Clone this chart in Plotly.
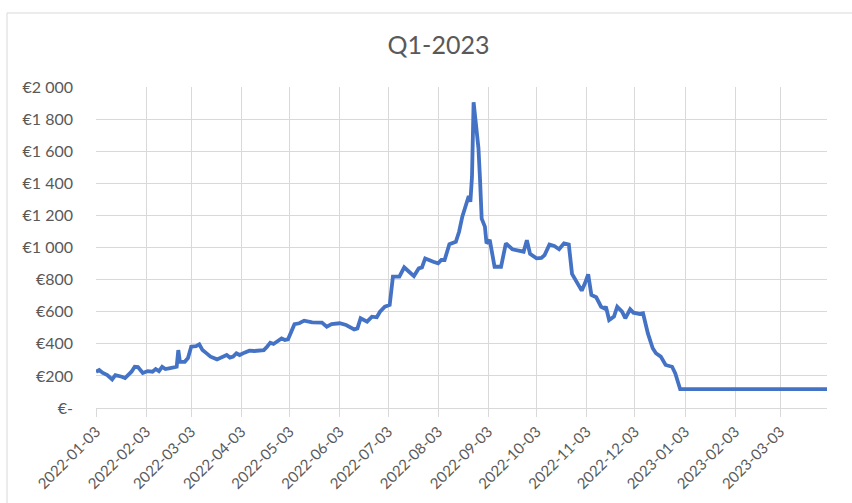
import plotly.graph_objects as go

# ---- data ----
dates = [
    "2022-01-03", "2022-01-05", "2022-01-07", "2022-01-10", "2022-01-13", "2022-01-15",
    "2022-01-19", "2022-01-21", "2022-01-25", "2022-01-27", "2022-01-29", "2022-02-01",
    "2022-02-04", "2022-02-07", "2022-02-09", "2022-02-11", "2022-02-13", "2022-02-15",
    "2022-02-18", "2022-02-21", "2022-02-22", "2022-02-23", "2022-02-24", "2022-02-27",
    "2022-03-01", "2022-03-03", "2022-03-06", "2022-03-08", "2022-03-10", "2022-03-12",
    "2022-03-15", "2022-03-19", "2022-03-23", "2022-03-25", "2022-03-27", "2022-03-29",
    "2022-03-31", "2022-04-02", "2022-04-05", "2022-04-08", "2022-04-11", "2022-04-14",
    "2022-04-17", "2022-04-19", "2022-04-21", "2022-04-23", "2022-04-25", "2022-04-28",
    "2022-04-30", "2022-05-02", "2022-05-04", "2022-05-06", "2022-05-09", "2022-05-12",
    "2022-05-17", "2022-05-23", "2022-05-26", "2022-05-29", "2022-06-03", "2022-06-07",
    "2022-06-12", "2022-06-14", "2022-06-16", "2022-06-20", "2022-06-23", "2022-06-26",
    "2022-06-28", "2022-07-01", "2022-07-04", "2022-07-06", "2022-07-10", "2022-07-13",
    "2022-07-16", "2022-07-19", "2022-07-22", "2022-07-24", "2022-07-26", "2022-07-28",
    "2022-07-31", "2022-08-03", "2022-08-05", "2022-08-07", "2022-08-10", "2022-08-14",
    "2022-08-16", "2022-08-18", "2022-08-20", "2022-08-22", "2022-08-23", "2022-08-24",
    "2022-08-25", "2022-08-26", "2022-08-28", "2022-08-29", "2022-08-30", "2022-09-01",
    "2022-09-02", "2022-09-04", "2022-09-07", "2022-09-11", "2022-09-14", "2022-09-18",
    "2022-09-21", "2022-09-25", "2022-09-27", "2022-09-29", "2022-10-03", "2022-10-06",
    "2022-10-08", "2022-10-11", "2022-10-14", "2022-10-17", "2022-10-20", "2022-10-23",
    "2022-10-25", "2022-10-28", "2022-10-31", "2022-11-02", "2022-11-04", "2022-11-06",
    "2022-11-09", "2022-11-12", "2022-11-14", "2022-11-15", "2022-11-17", "2022-11-20",
    "2022-11-22", "2022-11-25", "2022-11-27", "2022-11-30", "2022-12-02", "2022-12-06",
    "2022-12-08", "2022-12-11", "2022-12-14", "2022-12-16", "2022-12-19", "2022-12-22",
    "2022-12-26", "2022-12-28", "2022-12-31", "2023-01-31", "2023-02-28", "2023-04-01",
]
prices = [
    226, 237, 220, 205, 178, 205,
    195, 187, 226, 257, 255, 218,
    230, 226, 243, 230, 257, 243,
    249, 257, 257, 361, 288, 288,
    311, 382, 386, 397, 361, 345,
    320, 303, 320, 330, 314, 320,
    341, 330, 345, 357, 355, 361,
    361, 382, 407, 399, 413, 434,
    424, 428, 475, 522, 528, 544,
    534, 532, 507, 523, 528, 517,
    490, 496, 559, 538, 569, 565,
    600, 631, 642, 818, 818, 876,
    849, 822, 870, 876, 932, 922,
    911, 901, 922, 922, 1020, 1036,
    1098, 1192, 1254, 1321, 1285, 1441,
    1905, 1800, 1620, 1420, 1180, 1130,
    1026, 1047, 880, 880, 1026, 989,
    980, 974, 1045, 960, 932, 935,
    953, 1018, 1010, 989, 1026, 1018,
    835, 777, 731, 777, 833, 704,
    690, 631, 621, 631, 548, 569,
    631, 600, 559, 615, 594, 586,
    590, 465, 372, 341, 320, 268,
    257, 216, 117, 117, 117, 117,
]

title_text = "Q1-2023"
x_tick_vals = ["2022-01-03", "2022-02-03", "2022-03-03", "2022-04-03", "2022-05-03",
               "2022-06-03", "2022-07-03", "2022-08-03", "2022-09-03", "2022-10-03",
               "2022-11-03", "2022-12-03", "2023-01-03", "2023-02-03", "2023-03-03"]
y_tick_vals = [0, 200, 400, 600, 800, 1000, 1200, 1400, 1600, 1800, 2000]
y_tick_text = ["€-", "€200", "€400", "€600", "€800", "€1 000", "€1 200",
               "€1 400", "€1 600", "€1 800", "€2 000"]

# ---- figure ----
W, H = 852, 503
ml, mr, mt, mb = 96, 25, 87, 95
pw, ph = W - ml - mr, H - mt - mb

font_family = "Lato, 'Open Sans', 'Liberation Sans', sans-serif"
grid = "#d9d9d9"
txt = "#595959"

fig = go.Figure()
fig.add_trace(go.Scatter(
    x=dates, y=prices, mode="lines",
    line=dict(color="#4472C4", width=3.8),
    showlegend=False,
))

# chart-area border (top and left edges visible in the reference)
bx = (7 - ml) / pw
by = (H - mb - 13) / ph
fig.add_shape(type="line", xref="paper", yref="paper",
              x0=bx, x1=bx, y0=-mb / ph - 0.05, y1=by,
              line=dict(color=grid, width=1))
fig.add_shape(type="line", xref="paper", yref="paper",
              x0=bx, x1=1 + mr / pw + 0.05, y0=by, y1=by,
              line=dict(color=grid, width=1))

fig.update_layout(
    width=W, height=H,
    margin=dict(l=ml, r=mr, t=mt, b=mb, autoexpand=False),
    paper_bgcolor="white", plot_bgcolor="white",
    font=dict(family=font_family, color=txt, size=16),
    title=dict(text=title_text, x=438.5 / W, xanchor="center",
               y=1 - 45 / H, yanchor="middle",
               font=dict(family=font_family, size=25, color=txt)),
    xaxis=dict(
        type="date",
        range=[dates[0], dates[-1]],
        tickvals=x_tick_vals, ticktext=x_tick_vals,
        tickangle=-45,
        automargin=False,
        showgrid=True, gridcolor=grid, gridwidth=1,
        showline=True, linecolor=grid, linewidth=1,
        ticks="outside", ticklen=8, tickcolor=grid, tickwidth=1,
        tickfont=dict(size=15, color=txt),
        zeroline=False,
    ),
    yaxis=dict(
        range=[0, 2000],
        tickvals=y_tick_vals, ticktext=y_tick_text,
        automargin=False,
        showgrid=True, gridcolor=grid, gridwidth=1,
        showline=False, zeroline=False,
        ticks="", ticklabelstandoff=22,
        tickfont=dict(size=16, color=txt),
    ),
)

fig.write_html("out.html")
